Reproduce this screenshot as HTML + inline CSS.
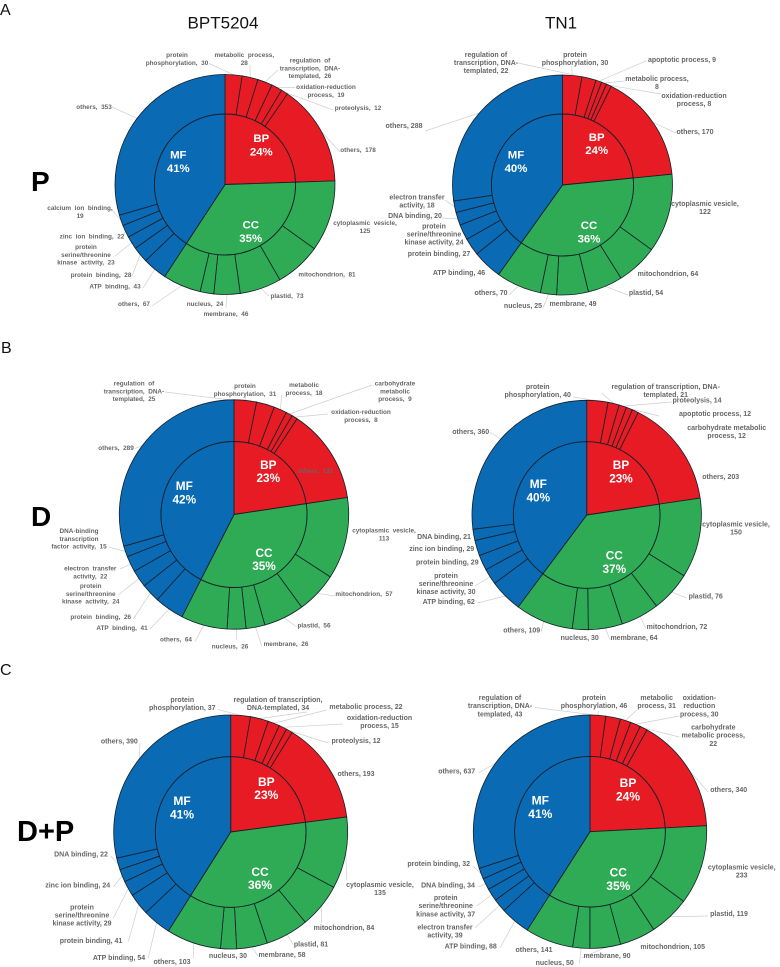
<!DOCTYPE html>
<html lang="en">
<head>
<meta charset="utf-8">
<title>GO classification sunburst charts</title>
<style>
html,body{margin:0;padding:0;background:#fff;}
body{width:780px;height:967px;overflow:hidden;font-family:"Liberation Sans",sans-serif;}
svg{display:block;}
text{font-family:"Liberation Sans",sans-serif;}
.lab{font-weight:700;fill:#666;text-anchor:middle;}
.ctr{font-weight:700;fill:#fff;text-anchor:middle;}
</style>
</head>
<body>
<svg id="fig" width="780" height="967" viewBox="0 0 780 967" xmlns="http://www.w3.org/2000/svg">
  <text x="0" y="15" font-size="16" fill="#111">A</text>
  <text x="1" y="353" font-size="16" fill="#111">B</text>
  <text x="0" y="675" font-size="16" fill="#111">C</text>
  <text x="223" y="28.5" font-size="17" fill="#111" text-anchor="middle">BPT5204</text>
  <text x="561" y="28.5" font-size="17" fill="#111" text-anchor="middle">TN1</text>
  <text x="31" y="191" font-size="28" font-weight="700" fill="#000">P</text>
  <text x="31" y="526" font-size="28" font-weight="700" fill="#000">D</text>
  <text x="17" y="841" font-size="29" font-weight="700" fill="#000">D+P</text>
</svg>
<script>
// Slices run clockwise from 12 o'clock: six BP terms, six CC terms, six MF terms.
// A "|" in a category is a line break in its label.
const groupNames = ["BP", "CC", "MF"];

const bptPCategories = ["protein|phosphorylation","metabolic process,|","regulation of|transcription, DNA-|templated","oxidation-reduction|process","proteolysis","others","cytoplasmic vesicle,|","mitochondrion","plastid","membrane","nucleus","others","ATP binding","protein binding","protein|serine/threonine|kinase activity","zinc ion binding","calcium ion binding,|","others"];
const bptPValues = [30,28,26,19,12,178,125,81,73,46,24,67,43,28,23,22,19,353];
const bptPPercents = [24,35,41];

const tnPCategories = ["protein|phosphorylation","regulation of|transcription, DNA-|templated","apoptotic process","metabolic process,|","oxidation-reduction|process","others","cytoplasmic vesicle,|","mitochondrion","plastid","membrane","nucleus","others","ATP binding","protein binding","protein|serine/threonine|kinase activity","DNA binding","electron transfer|activity","others"];
const tnPValues = [30,22,9,8,8,170,122,64,54,49,25,70,46,27,24,20,18,288];
const tnPPercents = [24,36,40];

const bptDCategories = ["protein|phosphorylation","regulation of|transcription, DNA-|templated","metabolic|process","carbohydrate|metabolic|process","oxidation-reduction|process","others","cytoplasmic vesicle,|","mitochondrion","plastid","membrane","nucleus","others","ATP binding","protein binding","protein|serine/threonine|kinase activity","electron transfer|activity","DNA-binding|transcription|factor activity","others"];
const bptDValues = [31,25,18,9,8,131,113,57,56,26,26,64,41,26,24,22,15,289];
const bptDPercents = [23,35,42];

const tnDCategories = ["protein|phosphorylation","regulation of transcription, DNA-|templated","proteolysis","apoptotic process","carbohydrate metabolic|process","others","cytoplasmic vesicle,|","plastid","mitochondrion","membrane","nucleus","others","ATP binding","protein|serine/threonine|kinase activity","protein binding","zinc ion binding","DNA binding","others"];
const tnDValues = [40,21,14,12,12,203,150,76,72,64,30,109,62,30,29,29,21,360];
const tnDPercents = [23,37,40];

const bptDPCategories = ["protein|phosphorylation","regulation of transcription,|DNA-templated","metabolic process","oxidation-reduction|process","proteolysis","others","cytoplasmic vesicle,|","mitochondrion","plastid","membrane","nucleus","others","ATP binding","protein binding","protein|serine/threonine|kinase activity","zinc ion binding","DNA binding","others"];
const bptDPValues = [37,34,22,15,12,193,135,84,81,58,30,103,54,41,29,24,22,390];
const bptDPPercents = [23,36,41];

const tnDPCategories = ["protein|phosphorylation","regulation of|transcription, DNA-|templated","metabolic|process","oxidation-|reduction|process","carbohydrate|metabolic process,|","others","cytoplasmic vesicle,|","plastid","mitochondrion","membrane","nucleus","others","ATP binding","electron transfer|activity","protein|serine/threonine|kinase activity","DNA binding","protein binding","others"];
const tnDPValues = [46,43,31,30,22,340,233,119,105,90,50,141,88,39,37,34,32,637];
const tnDPPercents = [24,35,41];

// Layout only: ring geometry and where each annotation sits.
const charts = [
 {id:"bpt5204-p",cats:bptPCategories,vals:bptPValues,pcts:bptPPercents,cx:225,cy:184.5,ro:110,ri:70.5,fs:6.4,ws:1.8,lh:7.8,cfs:11.4,
  ctr:[[261.3,142.2],[250.7,228.5],[178.3,158.5]],
  place:[[177,57,209,63.5],[244.3,57,250,65],[310,62.5,278,70],[326,89,295,87.5],[358,110,333,110],[358,152,340,152],[365,225,0,0],[327,276.5,0,0],[287,298,269,296],[226,316,226,308],[205,306,0,0],[134,306,152,306],[115,288.5,143,288],[101,277,132,276],[86,249,115,256],[92,238.5,123,236],[80,210,112,210],[94,109,112,107]]},
 {id:"tn1-p",cats:tnPCategories,vals:tnPValues,pcts:tnPPercents,cx:562.5,cy:185,ro:110,ri:71,fs:7,ws:0,lh:8.1,cfs:11.4,
  ctr:[[596.7,140.8],[589,229.2],[516,158.5]],
  place:[[575,57,571.7,66],[486,57,518,63],[682,62,646.7,60.7],[657,81,625,81],[694,98,660.7,94],[695,134,676,133],[705,206,0,0],[668,276,0,0],[646,295,628,295],[573,306,0,0],[523,308,543,308],[491,295,509,295],[459,275,0,0],[439,256,0,0],[434,228.5,0,0],[415,218,441.7,218],[417,199.5,445,200],[404,128,425,131]]},
 {id:"bpt5204-d",cats:bptDCategories,vals:bptDValues,pcts:bptDPercents,cx:234,cy:514.5,ro:114.7,ri:73,fs:6.4,ws:1.8,lh:7.8,cfs:11.8,
  ctr:[[268.3,468.8],[264,556.8],[184.3,490.2]],
  place:[[245,388,245.7,397],[134,385.5,165,392],[304,387,281.7,395],[395,385.5,372,385],[361,414,328,414],[315.7,472.8,0,0],[384,532.5,0,0],[364,596,335,596],[314,627.5,296.7,627],[286,646,261.7,646],[230,648.5,236.7,640],[176,641.5,195,641.5],[122,630,150,629],[100.7,619,133.3,619],[90.7,588,118.3,595],[90.3,570.5,120,569],[79,533,109,547],[116,450,135,448.5]]},
 {id:"tn1-d",cats:tnDCategories,vals:tnDValues,pcts:tnDPercents,cx:586.7,cy:515,ro:114.7,ri:73.3,fs:7,ws:0,lh:8.1,cfs:11.8,
  ctr:[[621,469.2],[614.3,559.5],[538.3,488.2]],
  place:[[537.7,389,573,397],[665.7,389,601.7,393],[697,402.5,671.7,402],[715,415.8,659,416],[726.7,429.8,0,0],[720.7,479,0,0],[736,526.5,0,0],[705.7,598.5,687,598],[677,629,646,629],[634,640,610,640],[579.7,640,0,0],[521.7,632.5,541,632],[448.7,603.8,477.3,603],[446,578,475,586],[447.3,564.5,0,0],[441.7,551,0,0],[444,538.8,0,0],[470.7,433.8,490,432]]},
 {id:"bpt5204-dp",cats:bptDPCategories,vals:bptDPValues,pcts:bptDPPercents,cx:230.7,cy:832,ro:117,ri:75.3,fs:7,ws:0,lh:8.1,cfs:12,
  ctr:[[266.3,785.8],[260,875.8],[182,805.2]],
  place:[[182.3,702,218,709.5],[278,702,306.7,712],[366,709,326.7,710],[379.5,720,343,724],[356,743,328,743],[356,776,0,0],[380,887,346.7,880],[344,930,321.7,923],[311,946.5,293.3,945],[282,957,258.3,956.7],[228,958,0,0],[172,964,193.3,958],[119,960,148.3,958],[91,943,128.3,941.7],[82,909.5,113.3,918],[77.7,887.5,113.3,887],[81,856.5,110.7,856],[119.3,743.5,140,743]]},
 {id:"tn1-dp",cats:tnDPCategories,vals:tnDPValues,pcts:tnDPPercents,cx:590,cy:831.7,ro:116.7,ri:75.3,fs:7,ws:0,lh:8.2,cfs:12,
  ctr:[[628,787.2],[618.3,876.5],[540.3,804.5]],
  place:[[594,700,598.3,711],[500,700,535,707.5],[656.7,700,636.7,710],[699.3,700,679.3,716],[713.3,729.5,679.3,737],[728.7,792,708,792],[741.7,869.5,0,0],[729,916,708,916],[672.7,948.8,0,0],[607,958,581.7,958],[554.7,965,579.3,964],[534,952,0,0],[470.7,948.5,500,948],[445,929.5,475,928],[445.7,900,476.7,906],[448,887.5,478.3,887],[438.7,866,472.7,866],[456.7,773.5,478.3,773]]}
];
const groupColors = ["#e71b23", "#2eab54", "#0a6ab4"];
const ringStroke = "#14202a";
const SVGNS = "http://www.w3.org/2000/svg";
const fig = document.getElementById("fig");

function polar(c, r, a) {
  return [c.cx + r * Math.sin(a), c.cy - r * Math.cos(a)];
}
function sectorPath(c, r0, r1, a0, a1) {
  const large = a1 - a0 > Math.PI ? 1 : 0;
  const p0 = polar(c, r1, a0), p1 = polar(c, r1, a1);
  if (r0 === 0) {
    return "M" + c.cx + " " + c.cy + "L" + p0[0] + " " + p0[1] + "A" + r1 + " " + r1 + " 0 " + large + " 1 " + p1[0] + " " + p1[1] + "Z";
  }
  const p2 = polar(c, r0, a1), p3 = polar(c, r0, a0);
  return "M" + p0[0] + " " + p0[1] + "A" + r1 + " " + r1 + " 0 " + large + " 1 " + p1[0] + " " + p1[1] +
         "L" + p2[0] + " " + p2[1] + "A" + r0 + " " + r0 + " 0 " + large + " 0 " + p3[0] + " " + p3[1] + "Z";
}
function slug(s) {
  return s.replace(/\|/g, " ").replace(/[^A-Za-z0-9]+/g, "-").replace(/^-|-$/g, "").toLowerCase();
}

charts.forEach(function (c) {
  const g = document.createElementNS(SVGNS, "g");
  
  
  fig.appendChild(g);

  const total = c.vals.reduce(function (s, v) { return s + v; }, 0);
  const toAngle = function (v) { return v / total * 2 * Math.PI; };

  // leader lines
  let a = 0;
  c.vals.forEach(function (v, i) {
    const mid = a + toAngle(v) / 2;
    a += toAngle(v);
    const pl = c.place[i];
    if (pl[2] === 0) return;
    const p = polar(c, c.ro, mid);
    const ln = document.createElementNS(SVGNS, "line");
    
    
    ln.setAttribute("x1", p[0]);
    ln.setAttribute("y1", p[1]);
    ln.setAttribute("x2", pl[2]);
    ln.setAttribute("y2", pl[3]);
    ln.setAttribute("stroke", "#cfcfcf");
    ln.setAttribute("stroke-width", "0.7");
    g.appendChild(ln);
  });

  // outer ring
  a = 0;
  c.vals.forEach(function (v, i) {
    const a1 = a + toAngle(v);
    const s = document.createElementNS(SVGNS, "path");
    
    
    s.setAttribute("d", sectorPath(c, c.ri, c.ro, a, a1));
    s.setAttribute("fill", groupColors[Math.floor(i / 6)]);
    s.setAttribute("stroke", ringStroke);
    s.setAttribute("stroke-width", "0.8");
    g.appendChild(s);
    a = a1;
  });

  // inner ring: sum of each group's six terms
  a = 0;
  groupNames.forEach(function (name, gi) {
    const sum = c.vals.slice(gi * 6, gi * 6 + 6).reduce(function (s, v) { return s + v; }, 0);
    const a1 = a + toAngle(sum);
    const s = document.createElementNS(SVGNS, "path");
    
    
    s.setAttribute("d", sectorPath(c, 0, c.ri, a, a1));
    s.setAttribute("fill", groupColors[gi]);
    s.setAttribute("stroke", ringStroke);
    s.setAttribute("stroke-width", "0.9");
    g.appendChild(s);
    a = a1;
  });

  // centre labels
  groupNames.forEach(function (name, gi) {
    const t = document.createElementNS(SVGNS, "text");
    
    
    t.setAttribute("class", "ctr");
    t.setAttribute("font-size", c.cfs);
    [name, c.pcts[gi] + "%"].forEach(function (str, k) {
      const sp = document.createElementNS(SVGNS, "tspan");
      sp.setAttribute("x", c.ctr[gi][0]);
      sp.setAttribute("y", c.ctr[gi][1] + k * 13.4);
      sp.textContent = str;
      t.appendChild(sp);
    });
    g.appendChild(t);
  });

  // term labels
  c.cats.forEach(function (cat, i) {
    const pl = c.place[i];
    const full = cat.endsWith("|") ? cat + c.vals[i] : cat + ", " + c.vals[i];
    const t = document.createElementNS(SVGNS, "text");
    
    
    t.setAttribute("class", "lab");
    t.setAttribute("font-size", c.fs);
    t.setAttribute("word-spacing", c.ws);
    full.split("|").forEach(function (str, k) {
      const sp = document.createElementNS(SVGNS, "tspan");
      sp.setAttribute("x", pl[0]);
      sp.setAttribute("y", pl[1] + k * c.lh);
      sp.textContent = str;
      t.appendChild(sp);
    });
    g.appendChild(t);
  });
});
</script>
</body>
</html>
